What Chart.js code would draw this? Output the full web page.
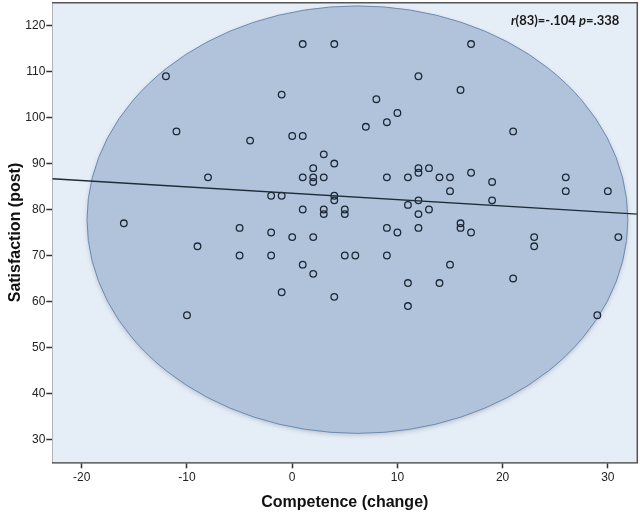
<!DOCTYPE html>
<html>
<head>
<meta charset="utf-8">
<script src="https://cdn.jsdelivr.net/npm/chart.js@4/dist/chart.umd.min.js"></script>
<style>
  html, body { margin:0; padding:0; background:#fff; }
  #wrap { width:640px; height:513px; }
</style>
</head>
<body>
<div id="wrap"><canvas id="c"></canvas></div>
<script>
// ------------------------------------------------------
// data
// ------------------------------------------------------
const competence = [
  1, 4, 17, -12, 12, -1, 16, 8, 10, 9, 7, -11, 21, -4, 0, 1, 3, 4,
  2, 12, 13, -8, 1, 2, 2, 3, 9, 11, 12, 14, 15, 17, 19, 26, 15, 26, 30,
  -2, -1, 4, 4, 12, 19, 1, 3, 3, 5, 5, 11, 12, 13,
  -16, -5, -2, 0, 2, 9, 10, 12, 16, 16, 17, 23, 23, 31,
  -9, -5, -2, 5, 6, 9, 1, 15, 2, 21, 11, 14, -1, 4, 11, -10, 29
];
const satisfaction = [
  116, 116, 116, 109, 109, 105, 106, 104, 101, 99, 98, 97, 97, 95, 96, 96, 92, 90,
  89, 89, 89, 87, 87, 87, 86, 87, 87, 87, 88, 87, 87, 88, 86, 87, 84, 84, 84,
  83, 83, 83, 82, 82, 82, 80, 80, 79, 80, 79, 81, 79, 80,
  77, 76, 75, 74, 74, 76, 75, 76, 77, 76, 75, 74, 72, 74,
  72, 70, 70, 70, 70, 70, 68, 68, 66, 65, 64, 64, 62, 61, 59, 57, 57
];

// fit line ends (at the frame edges)
const fitX = [-22.8, 32.8];
const fitY = [86.7, 79.0];

// ellipse: centre and half-widths in data units
const ellipseCenter = [6.2, 77.8];
const ellipseRadius = [25.7, 46.5];

const xTicks = [-20, -10, 0, 10, 20, 30];
const yTicks = [30, 40, 50, 60, 70, 80, 90, 100, 110, 120];
const xRange = [-22.8, 32.8];
const yRange = [25, 125];

const annotation = [
  { t:'r', italic:true }, { t:'(83)=-.104 ', italic:false },
  { t:'p', italic:true }, { t:'=.338', italic:false }
];

// ------------------------------------------------------
// plot background + ellipse + frame + annotation
// ------------------------------------------------------
const plotDecor = {
  id:'plotDecor',
  beforeDatasetsDraw(chart){
    const { ctx, chartArea:a, scales:{ x, y } } = chart;
    ctx.save();
    ctx.fillStyle = '#e5edf7';
    ctx.fillRect(a.left, a.top, a.right - a.left, a.bottom - a.top);

    ctx.beginPath();
    ctx.rect(a.left, a.top, a.right - a.left, a.bottom - a.top);
    ctx.clip();

    const cx = x.getPixelForValue(ellipseCenter[0]);
    const cy = y.getPixelForValue(ellipseCenter[1]);
    const rx = x.getPixelForValue(ellipseCenter[0] + ellipseRadius[0]) - cx;
    const ry = cy - y.getPixelForValue(ellipseCenter[1] + ellipseRadius[1]);

    ctx.shadowColor = 'rgba(60,80,110,0.25)';
    ctx.shadowBlur = 4;
    ctx.shadowOffsetY = 2;
    ctx.beginPath();
    ctx.ellipse(cx, cy, rx, ry, 0, 0, Math.PI * 2);
    ctx.fillStyle = '#b1c3da';
    ctx.fill();
    ctx.shadowColor = 'transparent';
    ctx.lineWidth = 1;
    ctx.strokeStyle = '#6f8aae';
    ctx.stroke();
    ctx.restore();
  },
  afterDraw(chart){
    const { ctx, chartArea:a } = chart;
    ctx.save();
    ctx.strokeStyle = '#555';
    ctx.lineWidth = 1.5;
    ctx.beginPath();
    ctx.moveTo(a.left, a.top);
    ctx.lineTo(a.right, a.top);
    ctx.lineTo(a.right, a.bottom);
    ctx.stroke();

    // r / p text, right aligned
    ctx.fillStyle = '#1a1a1a';
    ctx.textBaseline = 'middle';
    const fontFor = p => (p.italic ? 'italic ' : '') + 'bold 13px Lato, "Open Sans", sans-serif';
    let w = 0;
    annotation.forEach(p => { ctx.font = fontFor(p); w += ctx.measureText(p.t).width; });
    let px = a.right - 18 - w;
    annotation.forEach(p => {
      ctx.font = fontFor(p);
      ctx.fillText(p.t, px, a.top + 18);
      px += ctx.measureText(p.t).width;
    });
    ctx.restore();
  }
};

// ------------------------------------------------------
// chart
// ------------------------------------------------------
const points = competence.map((v, i) => ({ x:v, y:satisfaction[i] }));
const fitLine = fitX.map((v, i) => ({ x:v, y:fitY[i] }));

const tickFont = { family:'"Liberation Sans", Arial, sans-serif', size:12 };
const titleFont = { family:'"Liberation Sans", Arial, sans-serif', size:16, weight:'bold' };

new Chart(document.getElementById('c'), {
  type:'scatter',
  data:{
    datasets:[
      {
        type:'line',
        data:fitLine,
        borderColor:'#1e2c38',
        borderWidth:1.3,
        pointRadius:0,
        fill:false
      },
      {
        data:points,
        pointStyle:'circle',
        pointRadius:3.3,
        pointBorderWidth:1.3,
        borderColor:'#1c2837',
        backgroundColor:'rgba(0,0,0,0)'
      }
    ]
  },
  options:{
    responsive:true,
    maintainAspectRatio:false,
    animation:false,
    layout:{ autoPadding:false, padding:{ top:2.7, right:2.7, left:0, bottom:0 } },
    plugins:{ legend:{ display:false }, tooltip:{ enabled:false } },
    scales:{
      x:{
        type:'linear',
        min:xRange[0], max:xRange[1],
        afterBuildTicks(scale){ scale.ticks = xTicks.map(v => ({ value:v })); },
        afterFit(scale){ scale.height = 50.7; scale.paddingLeft = 0; scale.paddingRight = 0; },
        grid:{ drawOnChartArea:false, drawTicks:true, tickLength:6, tickColor:'#333', tickWidth:1.5 },
        border:{ display:true, color:'#333', width:1.5 },
        ticks:{ color:'#222', font:tickFont, padding:2 },
        title:{ display:true, text:'Competence (change)', color:'#111', font:titleFont, padding:{ top:0, bottom:1 } }
      },
      y:{
        type:'linear',
        min:yRange[0], max:yRange[1],
        afterBuildTicks(scale){ scale.ticks = yTicks.map(v => ({ value:v })); },
        afterFit(scale){ scale.width = 52.3; scale.paddingTop = 0; scale.paddingBottom = 0; },
        grid:{ drawOnChartArea:false, drawTicks:true, tickLength:6, tickColor:'#333', tickWidth:1.5 },
        border:{ display:true, color:'#333', width:1.5 },
        ticks:{ color:'#222', font:tickFont, padding:1 },
        title:{ display:true, text:'Satisfaction (post)', color:'#111', font:titleFont, padding:{ top:6, bottom:0 } }
      }
    }
  },
  plugins:[plotDecor]
});
</script>
</body>
</html>
